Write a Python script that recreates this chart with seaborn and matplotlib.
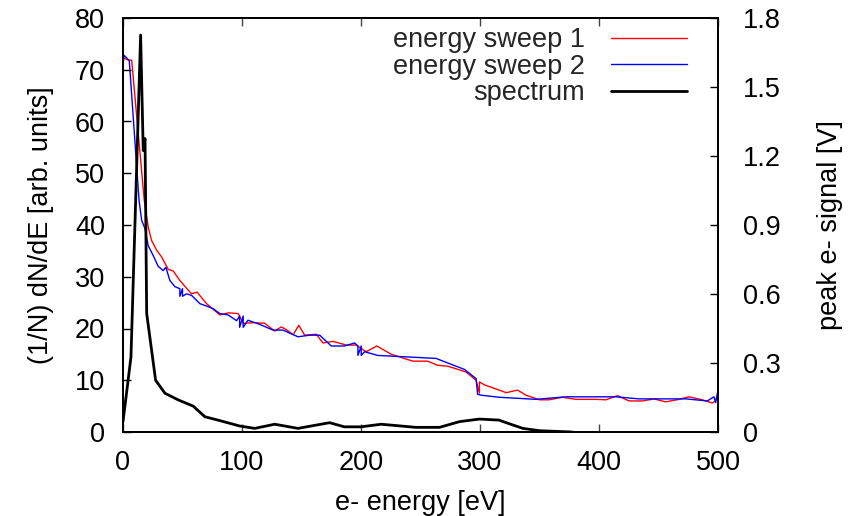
import numpy as np
import pandas as pd
import matplotlib
matplotlib.use("Agg")
import matplotlib.pyplot as plt
from matplotlib.ticker import FuncFormatter
import seaborn as sns

# ---------------- data ----------------
sweep1_energy = [0, 0.8, 3, 7.3, 17.9, 21.2, 24, 28.3, 32.5, 38, 42.2, 47.8, 54.8, 57.6,
                 62.3, 70.2, 81.4, 88.4, 96.8, 101, 109.3, 119, 127.5, 133, 137, 143,
                 147.7, 152.7, 162.5, 168, 176.4, 187.7, 196, 199, 204.4, 213.3, 225.4,
                 243.5, 256, 264.5, 273, 288.3, 296.7, 299.5, 299.5, 303.7, 316.3, 322,
                 331.6, 338.7, 350, 358, 369, 380.6, 397.4, 405.7, 415.5, 425.3, 436.5,
                 446.3, 456, 467.3, 475.7, 486.8, 495.2, 499.5]
sweep1_signal = [1.602, 1.627, 1.620, 1.616, 1.006, 0.891, 0.833, 0.790, 0.761, 0.707,
                 0.700, 0.659, 0.617, 0.601, 0.608, 0.558, 0.509, 0.518, 0.515, 0.473,
                 0.475, 0.473, 0.439, 0.457, 0.446, 0.423, 0.464, 0.421, 0.425, 0.387,
                 0.394, 0.378, 0.378, 0.367, 0.349, 0.374, 0.338, 0.308, 0.308, 0.290,
                 0.286, 0.261, 0.225, 0.169, 0.218, 0.205, 0.182, 0.171, 0.182, 0.160,
                 0.140, 0.140, 0.151, 0.142, 0.142, 0.140, 0.158, 0.135, 0.135, 0.144,
                 0.131, 0.142, 0.153, 0.140, 0.126, 0.142]

sweep2_energy = [0, 0, 0.8, 3, 5.3, 13.5, 15.7, 18.5, 21.2, 25.4, 29.6, 33.8, 36, 39.4,
                 43.6, 47.8, 47.8, 50, 50, 53.4, 57.6, 64.6, 71.6, 75.8, 81.4, 88.4, 95.4,
                 98, 98, 101, 101, 105, 114.9, 126, 134.5, 147, 157, 165.3, 175, 186.2,
                 194.6, 197.4, 197.4, 200.2, 200.2, 203, 214, 263, 287, 296.7, 298, 301,
                 316.3, 347, 372.2, 414, 433.7, 473, 491, 496.6, 498, 499.5]
sweep2_signal = [1.661, 1.602, 1.638, 1.627, 1.613, 1.006, 0.920, 0.884, 0.810, 0.767,
                 0.720, 0.702, 0.716, 0.659, 0.632, 0.623, 0.590, 0.623, 0.590, 0.601,
                 0.594, 0.558, 0.545, 0.536, 0.515, 0.509, 0.484, 0.504, 0.455, 0.504,
                 0.455, 0.486, 0.468, 0.443, 0.443, 0.414, 0.421, 0.421, 0.374, 0.374,
                 0.387, 0.374, 0.333, 0.374, 0.333, 0.349, 0.333, 0.320, 0.272, 0.232,
                 0.164, 0.160, 0.151, 0.142, 0.153, 0.153, 0.144, 0.144, 0.135, 0.153,
                 0.128, 0.171]

spectrum_energy = [0, 6.7, 14.8, 17, 18.5, 19.9, 27.4, 35.2, 46.4, 59, 68.8, 81.4, 98,
                   110.7, 127.5, 147, 173.6, 186, 200, 217, 246, 266, 282.7, 299.5, 316,
                   322, 336, 350, 377.5]
spectrum_dnde = [2.0, 14.5, 76.7, 54.4, 56.7, 22.9, 10.0, 7.5, 6.2, 5.0, 2.95, 2.2, 1.16,
                 0.7, 1.5, 0.7, 1.8, 1.0, 1.0, 1.5, 0.9, 0.9, 2.0, 2.5, 2.3, 1.8, 0.7,
                 0.25, 0.0]

x_ticks = [0, 100, 200, 300, 400, 500]
left_ticks = [0, 10, 20, 30, 40, 50, 60, 70, 80]
right_ticks = [0, 0.3, 0.6, 0.9, 1.2, 1.5, 1.8]

# ---------------- plot ----------------
sns.set_theme(style="white")
plt.rcParams['font.family'] = ['Liberation Sans', 'DejaVu Sans']
FS = 19.5
plt.rcParams['font.size'] = FS

fig = plt.figure(figsize=(8.53, 5.16), dpi=100)
ax = fig.add_axes([123 / 853, 1 - 432 / 516, (718 - 123) / 853, (432 - 18) / 516])
ax2 = ax.twinx()

df1 = pd.DataFrame({"energy": sweep1_energy, "signal": sweep1_signal})
df2 = pd.DataFrame({"energy": sweep2_energy, "signal": sweep2_signal})
dfs = pd.DataFrame({"energy": spectrum_energy, "dnde": spectrum_dnde})

sns.lineplot(data=df1, x="energy", y="signal", ax=ax2, sort=False, estimator=None,
             color="#ff0000", linewidth=1.0, label="energy sweep 1", legend=False)
sns.lineplot(data=df2, x="energy", y="signal", ax=ax2, sort=False, estimator=None,
             color="#0000ff", linewidth=1.0, label="energy sweep 2", legend=False)
sns.lineplot(data=dfs, x="energy", y="dnde", ax=ax, sort=False, estimator=None,
             color="black", linewidth=2.0, label="spectrum", legend=False)

ax.set_zorder(ax2.get_zorder() + 1)
ax.patch.set_visible(False)

ax.set_xlim(0, 500)
ax.set_ylim(0, 80)
ax2.set_ylim(0, 1.8)
ax.set_xticks(x_ticks)
ax.set_yticks(left_ticks)
ax2.set_yticks(right_ticks)
ax2.yaxis.set_major_formatter(FuncFormatter(lambda v, p: "0" if abs(v) < 1e-9 else f"{v:.1f}"))

for a in (ax, ax2):
    for s in a.spines.values():
        s.set_color("black")
        s.set_linewidth(1.3)

ax.tick_params(axis="x", which="both", direction="in", length=6, width=1, color="#444444",
               top=True, bottom=True, labelsize=FS, pad=13, labelcolor="black")
ax.tick_params(axis="y", direction="in", length=6, width=1, color="black", left=True,
               right=False, labelsize=FS, pad=13, labelcolor="black")
ax2.tick_params(axis="y", direction="in", length=6, width=1, color="black", right=True,
                left=False, labelsize=FS, pad=18, labelcolor="black")

ax.set_xlabel("e- energy [eV]", fontsize=FS, labelpad=10, color="black")
ax.set_ylabel("(1/N) dN/dE [arb. units]", fontsize=FS, labelpad=15, color="black")
ax2.set_ylabel("peak e- signal [V]", fontsize=FS, labelpad=26, color="black")

handles = ax2.get_lines()[:2] + ax.get_lines()[:1]
labels = ["energy sweep 1", "energy sweep 2", "spectrum"]
leg = ax.legend(handles, labels, loc="upper right", bbox_to_anchor=(0.979, 1.024),
                frameon=False, markerfirst=False, handlelength=2.8, handletextpad=0.95,
                labelspacing=0.02, fontsize=FS, borderaxespad=0.3)

fig.savefig("out.png", dpi=100)
